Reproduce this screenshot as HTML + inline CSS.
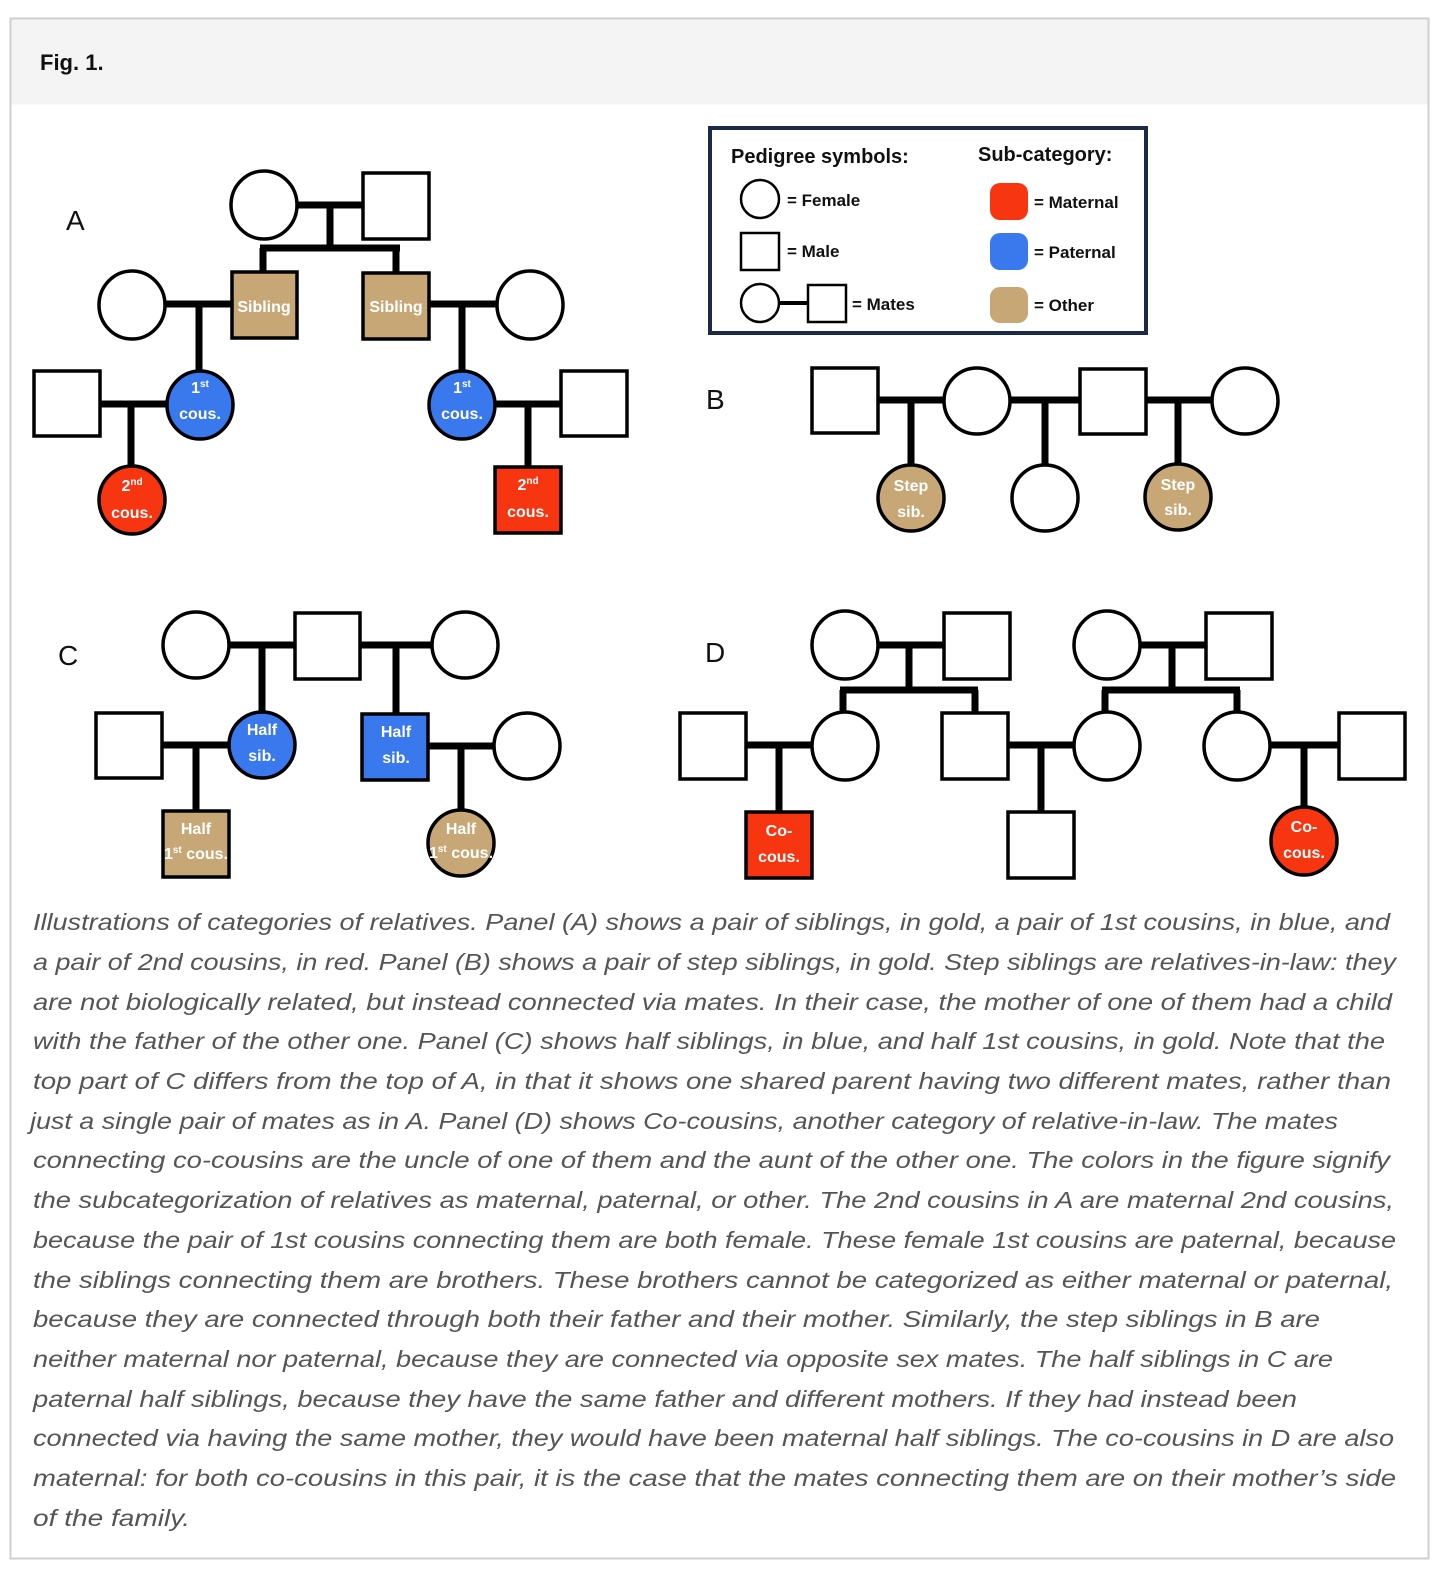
<!DOCTYPE html>
<html><head><meta charset="utf-8"><style>
html,body{margin:0;padding:0;background:#fff;overflow:hidden;width:1456px;height:1584px;}
svg{display:block;}
.lbl{font-family:"Liberation Sans",Arial,sans-serif;font-size:28px;fill:#111;}
.nt{font-family:"Liberation Sans",Arial,sans-serif;font-weight:bold;font-size:16px;fill:#fff;text-anchor:middle;}
.sup{font-size:10px;}
.lg{font-family:"Liberation Sans",Arial,sans-serif;font-weight:bold;fill:#111;}
.cap{font-family:"Liberation Sans",Arial,sans-serif;font-style:italic;font-size:23px;fill:#555;}
</style></head><body>
<svg width="1456" height="1584" viewBox="0 0 1456 1584" xmlns="http://www.w3.org/2000/svg">
<rect x="10.5" y="18.5" width="1418" height="1540" fill="#fff" stroke="#cfcfcf" stroke-width="2"/>
<rect x="11.5" y="19.5" width="1416" height="85" fill="#f4f4f4"/>
<text x="40" y="70" class="lg" font-size="22">Fig. 1.</text>

<g stroke="#000" stroke-width="7" fill="none" stroke-linecap="butt">
<path d="M297 205H362 M330 205V248 M260 248H400 M263 248V272 M396 248V272"/>
<path d="M165 304H232 M199 304V372"/>
<path d="M430 304H497 M462 304V372"/>
<path d="M100 404H167 M131 404V467"/>
<path d="M495 404H561 M528 404V467"/>
<path d="M878 400H944 M911 400V465 M1010 400H1079 M1045 400V465 M1146 400H1212 M1178 400V465"/>
<path d="M229 645H295 M262 645V713 M360 645H432 M396 645V714"/>
<path d="M162 745H229 M196 745V810 M428 746H494 M461 746V810"/>
<path d="M878 645H943 M909 645V690 M840 690H978 M843 690V713 M975 690V713"/>
<path d="M1140 645H1205 M1172 645V690 M1102 690H1240 M1105 690V713 M1237 690V713"/>
<path d="M746 745H812 M779 745V812 M1008 745H1074 M1041 745V812 M1270 745H1338 M1304 745V808"/>
</g>

<g stroke="#000" stroke-width="3.5" fill="#fff">
<ellipse cx="264" cy="205" rx="33" ry="34"/>
<rect x="363" y="173" width="66" height="66"/>
<ellipse cx="132" cy="305" rx="33" ry="34"/>
<rect x="232" y="272" width="65" height="66" fill="#c8a777"/>
<rect x="363" y="273" width="66" height="66" fill="#c8a777"/>
<ellipse cx="530" cy="305" rx="33" ry="34"/>
<rect x="34" y="371" width="66" height="65"/>
<ellipse cx="200" cy="405" rx="33" ry="34" fill="#3a78ee"/>
<ellipse cx="462" cy="405" rx="33" ry="34" fill="#3a78ee"/>
<rect x="561" y="371" width="66" height="65"/>
<ellipse cx="132" cy="500" rx="33" ry="34" fill="#f73510"/>
<rect x="495" y="467" width="66" height="66" fill="#f73510"/>
<rect x="812" y="368" width="66" height="65"/>
<ellipse cx="977" cy="401" rx="33" ry="33"/>
<rect x="1080" y="369" width="66" height="65"/>
<ellipse cx="1245" cy="401" rx="33" ry="33"/>
<ellipse cx="911" cy="498" rx="33" ry="33" fill="#c8a777"/>
<ellipse cx="1045" cy="498" rx="33" ry="33"/>
<ellipse cx="1178" cy="497" rx="33" ry="33" fill="#c8a777"/>
<ellipse cx="196" cy="645" rx="33" ry="33"/>
<rect x="295" y="613" width="65" height="66"/>
<ellipse cx="465" cy="645" rx="33" ry="33"/>
<rect x="96" y="713" width="66" height="65"/>
<ellipse cx="262" cy="745" rx="33" ry="33" fill="#3a78ee"/>
<rect x="362" y="714" width="66" height="66" fill="#3a78ee"/>
<ellipse cx="527" cy="746" rx="33" ry="33"/>
<rect x="163" y="811" width="66" height="66" fill="#c8a777"/>
<ellipse cx="461" cy="843" rx="33" ry="33" fill="#c8a777"/>
<ellipse cx="845" cy="645" rx="33" ry="34"/>
<rect x="944" y="613" width="66" height="66"/>
<ellipse cx="1107" cy="645" rx="33" ry="34"/>
<rect x="1206" y="613" width="66" height="66"/>
<rect x="680" y="713" width="66" height="66"/>
<ellipse cx="845" cy="746" rx="33" ry="34"/>
<rect x="942" y="713" width="66" height="66"/>
<ellipse cx="1107" cy="746" rx="33" ry="34"/>
<ellipse cx="1237" cy="746" rx="33" ry="34"/>
<rect x="1339" y="713" width="66" height="66"/>
<rect x="746" y="812" width="66" height="66" fill="#f73510"/>
<rect x="1008" y="812" width="66" height="66"/>
<ellipse cx="1304" cy="841" rx="33" ry="34" fill="#f73510"/>
</g>

<text x="66" y="230" class="lbl">A</text>
<text x="706" y="409" class="lbl">B</text>
<text x="58" y="665" class="lbl">C</text>
<text x="705" y="662" class="lbl">D</text>

<text x="264" y="312" class="nt">Sibling</text>
<text x="396" y="312" class="nt">Sibling</text>
<text x="200" y="393" class="nt">1<tspan class="sup" dy="-6">st</tspan></text>
<text x="200" y="419" class="nt">cous.</text>
<text x="462" y="393" class="nt">1<tspan class="sup" dy="-6">st</tspan></text>
<text x="462" y="419" class="nt">cous.</text>
<text x="132" y="491" class="nt">2<tspan class="sup" dy="-6">nd</tspan></text>
<text x="132" y="518" class="nt">cous.</text>
<text x="528" y="490" class="nt">2<tspan class="sup" dy="-6">nd</tspan></text>
<text x="528" y="517" class="nt">cous.</text>
<text x="911" y="491" class="nt">Step</text>
<text x="911" y="517" class="nt">sib.</text>
<text x="1178" y="490" class="nt">Step</text>
<text x="1178" y="515" class="nt">sib.</text>
<text x="262" y="735" class="nt">Half</text>
<text x="262" y="761" class="nt">sib.</text>
<text x="396" y="737" class="nt">Half</text>
<text x="396" y="763" class="nt">sib.</text>
<text x="196" y="834" class="nt">Half</text>
<text x="196" y="859" class="nt">1<tspan class="sup" dy="-6">st</tspan><tspan dy="6"> cous.</tspan></text>
<text x="461" y="834" class="nt">Half</text>
<text x="461" y="858" class="nt">1<tspan class="sup" dy="-6">st</tspan><tspan dy="6"> cous.</tspan></text>
<text x="779" y="836" class="nt">Co-</text>
<text x="779" y="862" class="nt">cous.</text>
<text x="1304" y="832" class="nt">Co-</text>
<text x="1304" y="858" class="nt">cous.</text>

<rect x="710" y="128" width="436" height="205" fill="#fff" stroke="#1b2a4a" stroke-width="4"/>
<text x="731" y="163" class="lg" font-size="20">Pedigree symbols:</text>
<text x="978" y="161" class="lg" font-size="20">Sub-category:</text>
<g stroke="#000" stroke-width="2.5" fill="#fff">
<ellipse cx="760" cy="199" rx="19" ry="19"/>
<rect x="741" y="233" width="38" height="37"/>
<path d="M779 303H808" stroke-width="4"/>
<ellipse cx="760" cy="303" rx="19" ry="19"/>
<rect x="808" y="285" width="38" height="37"/>
</g>
<rect x="990" y="183" width="38" height="37" rx="10" fill="#f73510"/>
<rect x="990" y="233" width="38" height="37" rx="10" fill="#3a78ee"/>
<rect x="990" y="287" width="38" height="36" rx="10" fill="#c8a777"/>
<text x="787" y="206" class="lg" font-size="17">= Female</text>
<text x="787" y="257" class="lg" font-size="17">= Male</text>
<text x="852" y="310" class="lg" font-size="17">= Mates</text>
<text x="1034" y="208" class="lg" font-size="17">= Maternal</text>
<text x="1034" y="258" class="lg" font-size="17">= Paternal</text>
<text x="1034" y="311" class="lg" font-size="17">= Other</text>

<g class="cap">
<text x="33" y="930" textLength="1357" lengthAdjust="spacingAndGlyphs">Illustrations of categories of relatives. Panel (A) shows a pair of siblings, in gold, a pair of 1st cousins, in blue, and</text>
<text x="33" y="970" textLength="1363" lengthAdjust="spacingAndGlyphs">a pair of 2nd cousins, in red. Panel (B) shows a pair of step siblings, in gold. Step siblings are relatives-in-law: they</text>
<text x="33" y="1010" textLength="1359" lengthAdjust="spacingAndGlyphs">are not biologically related, but instead connected via mates. In their case, the mother of one of them had a child</text>
<text x="33" y="1049" textLength="1352" lengthAdjust="spacingAndGlyphs">with the father of the other one. Panel (C) shows half siblings, in blue, and half 1st cousins, in gold. Note that the</text>
<text x="33" y="1089" textLength="1358" lengthAdjust="spacingAndGlyphs">top part of C differs from the top of A, in that it shows one shared parent having two different mates, rather than</text>
<text x="30" y="1129" textLength="1308" lengthAdjust="spacingAndGlyphs">just a single pair of mates as in A. Panel (D) shows Co-cousins, another category of relative-in-law. The mates</text>
<text x="33" y="1168" textLength="1357" lengthAdjust="spacingAndGlyphs">connecting co-cousins are the uncle of one of them and the aunt of the other one. The colors in the figure signify</text>
<text x="33" y="1208" textLength="1361" lengthAdjust="spacingAndGlyphs">the subcategorization of relatives as maternal, paternal, or other. The 2nd cousins in A are maternal 2nd cousins,</text>
<text x="33" y="1248" textLength="1363" lengthAdjust="spacingAndGlyphs">because the pair of 1st cousins connecting them are both female. These female 1st cousins are paternal, because</text>
<text x="33" y="1288" textLength="1360" lengthAdjust="spacingAndGlyphs">the siblings connecting them are brothers. These brothers cannot be categorized as either maternal or paternal,</text>
<text x="33" y="1327" textLength="1287" lengthAdjust="spacingAndGlyphs">because they are connected through both their father and their mother. Similarly, the step siblings in B are</text>
<text x="33" y="1367" textLength="1300" lengthAdjust="spacingAndGlyphs">neither maternal nor paternal, because they are connected via opposite sex mates. The half siblings in C are</text>
<text x="33" y="1407" textLength="1264" lengthAdjust="spacingAndGlyphs">paternal half siblings, because they have the same father and different mothers. If they had instead been</text>
<text x="33" y="1446" textLength="1361" lengthAdjust="spacingAndGlyphs">connected via having the same mother, they would have been maternal half siblings. The co-cousins in D are also</text>
<text x="33" y="1486" textLength="1363" lengthAdjust="spacingAndGlyphs">maternal: for both co-cousins in this pair, it is the case that the mates connecting them are on their mother’s side</text>
<text x="33" y="1526" textLength="157" lengthAdjust="spacingAndGlyphs">of the family.</text>
</g>
</svg>
</body></html>
